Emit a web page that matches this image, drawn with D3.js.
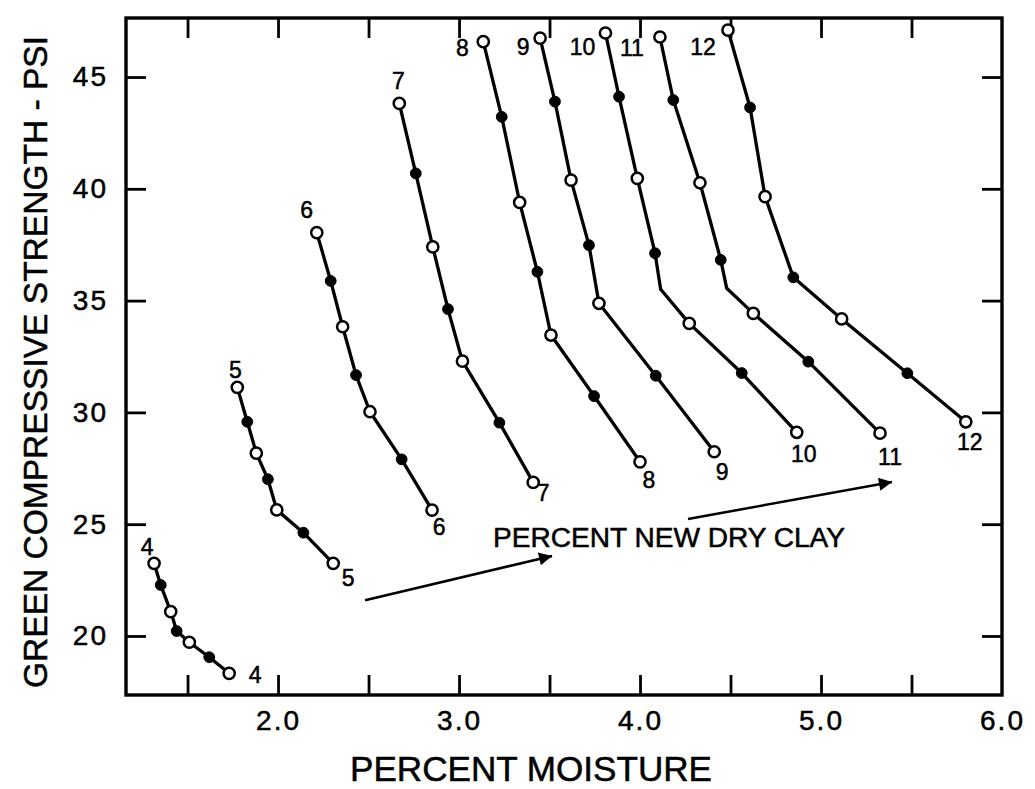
<!DOCTYPE html>
<html>
<head>
<meta charset="utf-8">
<script src="https://cdn.jsdelivr.net/npm/d3@7"></script>
<style>
  html, body { margin: 0; padding: 0; background: #fff; }
  svg { display: block; }
  text { font-family: "Liberation Sans", Arial, Helvetica, sans-serif; fill: #000; stroke: #000; stroke-width: 0.5px; }
</style>
</head>
<body>
<svg id="chart" width="1035" height="789"></svg>
<script>
// ---------------- DATA ----------------
// Percent new dry clay (one curve per value)
const clayLevels = [4, 5, 6, 7, 8, 9, 10, 11, 12];

// Each curve: [percent moisture, green compressive strength (psi), marker]
// marker: "o" = open circle, "f" = filled circle, "" = bend with no marker
const clay4 = [[1.315, 23.25, "o"], [1.352, 22.28, "f"], [1.407, 21.09, "o"], [1.44, 20.22, "f"], [1.51, 19.72, "o"], [1.62, 19.05, "f"], [1.73, 18.33, "o"]];
const clay5 = [[1.775, 31.12, "o"], [1.83, 29.58, "f"], [1.88, 28.18, "o"], [1.944, 27.01, "f"], [1.993, 25.64, "o"], [2.14, 24.62, "f"], [2.305, 23.25, "o"]];
const clay6 = [[2.214, 38.04, "o"], [2.291, 35.88, "f"], [2.357, 33.83, "o"], [2.431, 31.67, "f"], [2.508, 30.03, "o"], [2.683, 27.90, "f"], [2.851, 25.63, "o"]];
const clay7 = [[2.670, 43.82, "o"], [2.761, 40.69, "f"], [2.855, 37.40, "o"], [2.939, 34.62, "f"], [3.019, 32.29, "o"], [3.223, 29.54, "f"], [3.41, 26.87, "o"]];
const clay8 = [[3.134, 46.58, "o"], [3.236, 43.22, "f"], [3.335, 39.39, "o"], [3.433, 36.29, "f"], [3.508, 33.46, "o"], [3.746, 30.73, "f"], [4.0, 27.79, "o"]];
const clay9 = [[3.448, 46.74, "o"], [3.530, 43.90, "f"], [3.619, 40.39, "o"], [3.718, 37.48, "f"], [3.773, 34.88, "o"], [4.087, 31.64, "f"], [4.41, 28.24, "o"]];
const clay10 = [[3.809, 46.97, "o"], [3.884, 44.12, "f"], [3.985, 40.47, "o"], [4.083, 37.12, "f"], [4.114, 35.51, ""], [4.272, 33.98, "o"], [4.562, 31.76, "f"], [4.866, 29.11, "o"]];
const clay11 = [[4.110, 46.79, "o"], [4.184, 43.97, "f"], [4.331, 40.27, "o"], [4.446, 36.82, "f"], [4.479, 35.55, ""], [4.626, 34.43, "o"], [4.930, 32.27, "f"], [5.326, 29.07, "o"]];
const clay12 = [[4.486, 47.10, "o"], [4.608, 43.64, "f"], [4.691, 39.65, "o"], [4.847, 36.04, "f"], [5.114, 34.18, "o"], [5.477, 31.75, "f"], [5.80, 29.58, "o"]];

// Axis ticks and labels
const xTicks = [1.5, 2.0, 2.5, 3.0, 3.5, 4.0, 4.5, 5.0, 5.5, 6.0];
const xTickLabels = ["2.0", "3.0", "4.0", "5.0", "6.0"];
const yTicks = [20, 25, 30, 35, 40, 45];
const yTickLabels = ["20", "25", "30", "35", "40", "45"];

// Annotation arrows: [moisture, strength] start -> end
const arrow1 = [[2.481, 21.6], [3.514, 23.58]];
const arrow2 = [[4.265, 25.23], [5.392, 26.89]];
const annotationText = "PERCENT NEW DRY CLAY";
const annotationAt = [4.16, 24.0];

const xTitle = "PERCENT MOISTURE";
const yTitle = "GREEN COMPRESSIVE STRENGTH - PSI";

// ---------------- CHART ----------------
const curves = [clay4, clay5, clay6, clay7, clay8, clay9, clay10, clay11, clay12]
  .map((pts, i) => ({ clay: clayLevels[i], pts }));

const svg = d3.select("#chart");
const L = 126, R = 1002, T = 18, B = 695;

const x = d3.scaleLinear().domain([1.16, 6.0]).range([L, R]);
const y = d3.scaleLinear().domain([17.36, 47.64]).range([B, T]);

const tickLen = 20;
const axisFont = 28;

// Bottom axis
const gx = svg.append("g").attr("transform", `translate(0,${B})`)
  .call(d3.axisBottom(x).tickValues(xTicks).tickSizeInner(-tickLen).tickSizeOuter(0).tickPadding(15)
    .tickFormat(d => {
      const s = d3.format(".1f")(d);
      return xTickLabels.includes(s) ? s : "";
    }));
// Top axis
const gxt = svg.append("g").attr("transform", `translate(0,${T})`)
  .call(d3.axisTop(x).tickValues(xTicks.filter(d => d < 6)).tickSizeInner(-tickLen).tickSizeOuter(0).tickFormat(""));
// Left axis
const gy = svg.append("g").attr("transform", `translate(${L},0)`)
  .call(d3.axisLeft(y).tickValues(yTicks).tickSizeInner(-tickLen).tickSizeOuter(0).tickPadding(18)
    .tickFormat((d, i) => yTickLabels[i]));
// Right axis
const gyr = svg.append("g").attr("transform", `translate(${R},0)`)
  .call(d3.axisRight(y).tickValues(yTicks).tickSizeInner(-tickLen).tickSizeOuter(0).tickFormat(""));

[gx, gxt, gy, gyr].forEach(g => {
  g.select(".domain").remove();
  g.selectAll(".tick line").attr("stroke", "#000").attr("stroke-width", 2.8);
  g.selectAll(".tick text")
    .attr("font-family", '"Liberation Sans", Arial, sans-serif')
    .attr("font-size", axisFont)
    .attr("letter-spacing", 2)
    .attr("fill", "#000")
    .attr("stroke", "#000").attr("stroke-width", 0.5);
});
gx.selectAll(".tick line").filter(d => d >= 6).remove();

// Frame
svg.append("rect")
  .attr("x", L).attr("y", T).attr("width", R - L).attr("height", B - T)
  .attr("fill", "none").attr("stroke", "#000").attr("stroke-width", 3.4);

// Axis titles
svg.append("text")
  .attr("x", 531).attr("y", 781)
  .attr("text-anchor", "middle")
  .attr("font-size", 35)
  .attr("textLength", 362).attr("lengthAdjust", "spacingAndGlyphs")
  .text(xTitle);

svg.append("text")
  .attr("transform", "translate(47,362) rotate(-90)")
  .attr("text-anchor", "middle")
  .attr("font-size", 33.5)
  .attr("textLength", 652).attr("lengthAdjust", "spacingAndGlyphs")
  .text(yTitle);

// Curves
const line = d3.line().x(d => x(d[0])).y(d => y(d[1]));
const gc = svg.append("g");
gc.selectAll("path.curve").data(curves).join("path")
  .attr("class", "curve")
  .attr("d", d => line(d.pts))
  .attr("fill", "none").attr("stroke", "#000").attr("stroke-width", 3.3)
  .attr("stroke-linejoin", "round");

// Markers
curves.forEach(c => {
  const pts = c.pts.filter(p => p[2] !== "");
  gc.selectAll(null).data(pts).join("circle")
    .attr("cx", d => x(d[0])).attr("cy", d => y(d[1]))
    .attr("r", d => d[2] === "o" ? 5.6 : 5.4)
    .attr("fill", d => d[2] === "o" ? "#fff" : "#000")
    .attr("stroke", "#000")
    .attr("stroke-width", d => d[2] === "o" ? 2.5 : 1);
});

// Curve labels (offsets in pixels from first and last points)
const startOffsets = { 4: [-7, -16], 5: [-2, -17], 6: [-10, -23], 7: [-1, -22], 8: [-21, 6], 9: [-17, 9], 10: [-23, 14], 11: [-28, 11], 12: [-25, 17] };
const endOffsets = { 4: [26, 2], 5: [15, 15], 6: [7, 17], 7: [10, 11], 8: [9, 18], 9: [8, 20], 10: [7, 22], 11: [10, 24], 12: [4, 20] };

curves.forEach(c => {
  const first = c.pts[0], last = c.pts[c.pts.length - 1];
  const so = startOffsets[c.clay], eo = endOffsets[c.clay];
  [[first, so], [last, eo]].forEach(([p, o]) => {
    svg.append("text")
      .attr("x", x(p[0]) + o[0]).attr("y", y(p[1]) + o[1])
      .attr("text-anchor", "middle")
      .attr("dominant-baseline", "central")
      .attr("font-size", 23)
      .text(c.clay);
  });
});

// Annotation
svg.append("text")
  .attr("x", x(annotationAt[0])).attr("y", y(annotationAt[1]))
  .attr("text-anchor", "middle")
  .attr("font-size", 27)
  .attr("textLength", 352).attr("lengthAdjust", "spacingAndGlyphs")
  .text(annotationText);

svg.append("defs").append("marker")
  .attr("id", "arrowhead")
  .attr("viewBox", "0 0 10 10")
  .attr("refX", 10).attr("refY", 5)
  .attr("markerUnits", "userSpaceOnUse")
  .attr("markerWidth", 19).attr("markerHeight", 13)
  .attr("orient", "auto")
  .append("path").attr("d", "M0,0 L10,5 L0,10 z").attr("fill", "#000");

[arrow1, arrow2].forEach(a => {
  svg.append("line")
    .attr("x1", x(a[0][0])).attr("y1", y(a[0][1]))
    .attr("x2", x(a[1][0])).attr("y2", y(a[1][1]))
    .attr("stroke", "#000").attr("stroke-width", 2.5)
    .attr("marker-end", "url(#arrowhead)");
});
</script>
</body>
</html>
